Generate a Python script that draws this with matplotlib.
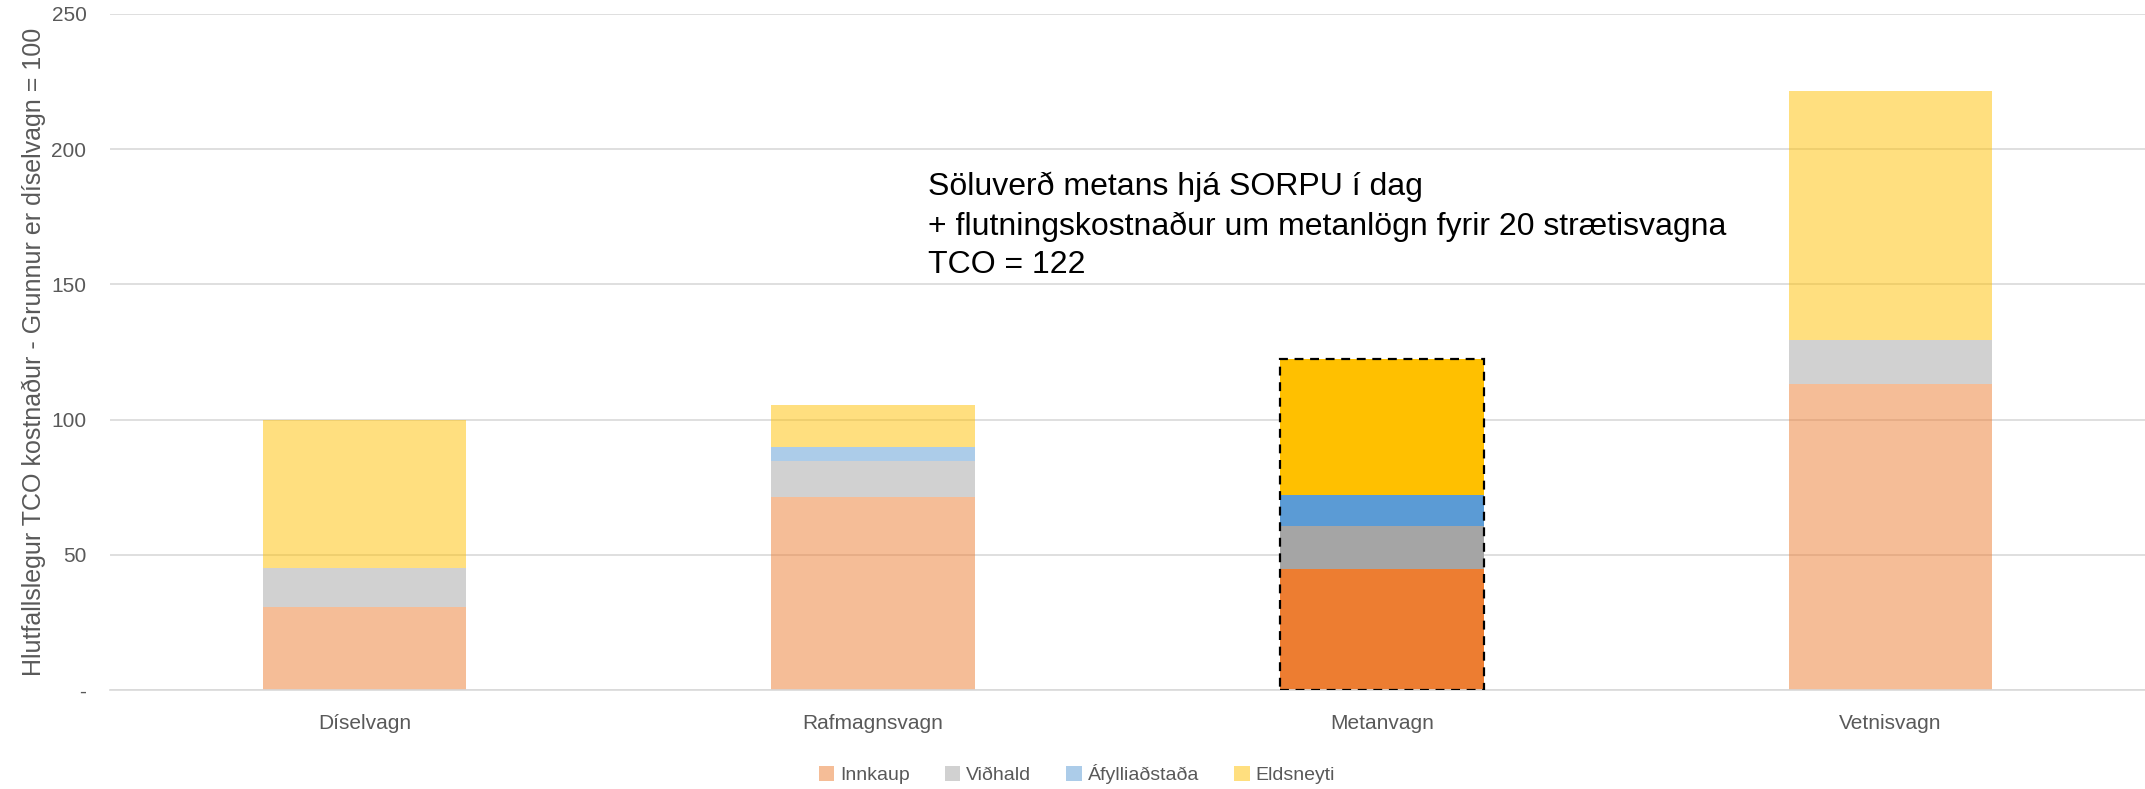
import numpy as np
import matplotlib.pyplot as plt
from matplotlib.patches import Patch

plt.rcParams['font.family'] = ['Liberation Sans', 'DejaVu Sans']

# gögn lesin af myndinni // values
vagnar = ['Díselvagn', 'Rafmagnsvagn', 'Metanvagn', 'Vetnisvagn']
flokkar = ['Innkaup', 'Viðhald', 'Áfylliaðstaða', 'Eldsneyti']
innkaup = [30.5, 71.5, 44.6, 113.3]
vidhald = [14.6, 13.2, 16.0, 16.2]
afylling = [0.0, 5.2, 11.4, 0.0]
eldsneyti = [54.9, 15.6, 50.2, 91.8]
yticks = [0, 50, 100, 150, 200, 250]
ytick_labels = ['-', '50', '100', '150', '200', '250']

litir = ['#ED7D31', '#A5A5A5', '#5B9BD5', '#FFC000']
highlight = 'Metanvagn'

fig = plt.figure(figsize=(21.45, 7.89), dpi=100)
ax = fig.add_axes([0.0513, 0.1255, 0.9487, 0.857])

x = np.arange(len(vagnar))
w = 0.4
botn = np.zeros(len(vagnar))
for vals, c in zip([innkaup, vidhald, afylling, eldsneyti], litir):
    vals = np.array(vals)
    for i, v in enumerate(vals):
        if v <= 0:
            continue
        a = 1.0 if vagnar[i] == highlight else 0.5
        ax.bar(x[i], v, w, bottom=botn[i], color=c, alpha=a, linewidth=0, zorder=2)
    botn += vals

# strikuð lína um metanvagninn // dashed outline for the highlighted bar
hi = vagnar.index(highlight)
ax.bar(x[hi], botn[hi], w, fill=False, edgecolor='black', linestyle=(0, (4, 3)),
       linewidth=1.6, zorder=3)

ax.set_xlim(-0.5, len(vagnar) - 0.5)
ax.set_ylim(0, 250)
ax.set_yticks(yticks)
ax.set_yticklabels(ytick_labels)
ax.set_xticks(x)
ax.set_xticklabels(vagnar)
ax.tick_params(axis='both', length=0, labelsize=15, colors='#595959')
ax.tick_params(axis='x', pad=17)
ax.tick_params(axis='y', pad=17)
ax.grid(axis='y', color='#D9D9D9', linewidth=1.2, zorder=0)
ax.set_axisbelow(True)
for s in ['top', 'right', 'left']:
    ax.spines[s].set_visible(False)
ax.spines['bottom'].set_color('#D9D9D9')
ax.spines['bottom'].set_linewidth(1.2)

ax.set_ylabel('Hlutfallslegur TCO kostnaður - Grunnur er díselvagn = 100',
              fontsize=18, color='#595959', labelpad=4)

ax.text(1.108, 171.5, 'Söluverð metans hjá SORPU í dag\n'
        '+ flutningskostnaður um metanlögn fyrir 20 strætisvagna\nTCO = 122',
        fontsize=23, color='black', ha='left', va='center', linespacing=1.38)

handles = [Patch(facecolor=c, alpha=0.5, edgecolor='none') for c in litir]
fig.legend(handles, flokkar, loc='center', bbox_to_anchor=(0.502, 0.019),
           ncol=4, frameon=False, fontsize=14, labelcolor='#595959',
           handlelength=0.8, handleheight=0.8, columnspacing=1.8, handletextpad=0.3,
           borderpad=0)

fig.savefig('out.png', dpi=100)
